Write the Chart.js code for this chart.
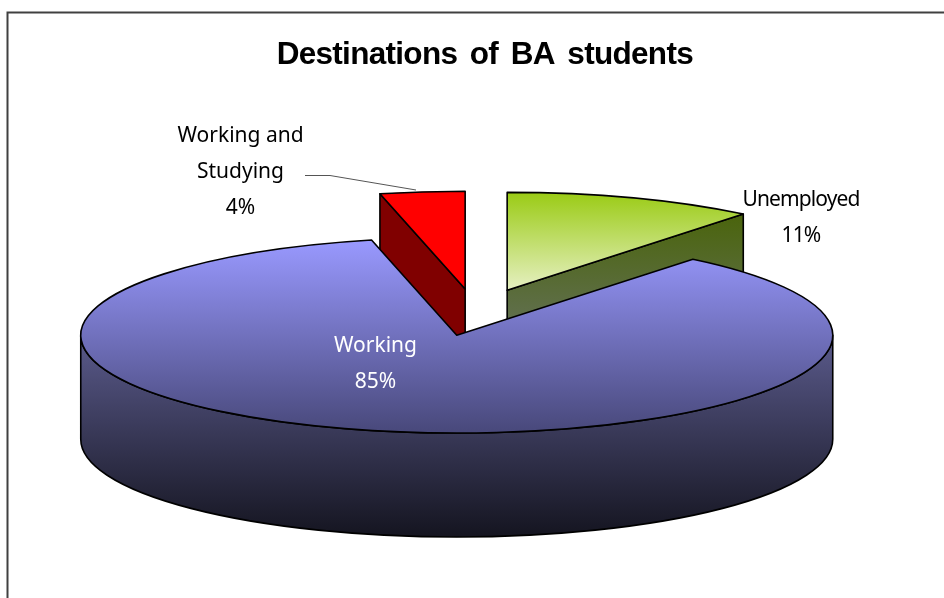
<!DOCTYPE html>
<html>
<head>
<meta charset="utf-8">
<title>Destinations of BA students</title>
<script src="https://cdn.jsdelivr.net/npm/chart.js@4/dist/chart.umd.min.js"></script>
<style>
html, body { margin: 0; padding: 0; background: #fff; }
canvas { display: block; }
</style>
</head>
<body>
<canvas id="myChart" width="944" height="598"></canvas>
<script>
// data, clockwise from 12 o'clock
var categories = ["Unemployed", "Working", "Working and Studying"];
var shares = [11, 85, 4];

// look of the tilted pie
var TILT = 0.26;      // y squash of the pie disc
var DEPTH = 104;      // wall height in px
var EXPLODE = 90.5;   // how far each slice is pulled out, before squash
var RADIUS = 376;

// the perspective of the original pulls the far cut edges toward 12 o'clock (degrees, end edge of each slice)
var edgeTrim = [-0.7, 1.3, 0];

var topColors = [["#9acb14", "#e6f0c2"], ["#9999ff", "#48487a"], ["#ff0000", "#ff0000"]];
var topRange = [[192, 290], [240, 433], [190, 288]];
var wallColors = [["#4a640c", "#606f4c"], ["#585888", "#14141f"], ["#800000", "#800000"]];
var wallRange = [[214, 319], [343, 538], [193, 340]];
var wallOrder = [2, 0, 1];

// label placement in page px (x, first line y, colour, letter spacing), one line every 36px
var labelSpots = [[801, 200, "#000", "-0.9px"], [375.5, 346, "#fff", "0px"], [240.5, 136, "#000", "0px"]];

function baseY(chart) {
    return (chart.chartArea.top + chart.chartArea.bottom) / 2;
}

function tilt(ctx, cy) {
    ctx.translate(0, cy);
    ctx.scale(1, TILT);
    ctx.translate(0, -cy);
}

// scriptable fill: gradient stops are given in page px, the fill runs inside the tilt
function topFill(c) {
    // no layout yet on the first pass
    if (!c.chart.chartArea) return topColors[c.dataIndex][0];
    var cy = baseY(c.chart);
    var r = topRange[c.dataIndex];
    var g = c.chart.ctx.createLinearGradient(0, cy + (r[0] - cy) / TILT, 0, cy + (r[1] - cy) / TILT);
    g.addColorStop(0, topColors[c.dataIndex][0]);
    g.addColorStop(1, topColors[c.dataIndex][1]);
    return g;
}

function wallFill(ctx, i) {
    var g = ctx.createLinearGradient(0, wallRange[i][0], 0, wallRange[i][1]);
    g.addColorStop(0, wallColors[i][0]);
    g.addColorStop(1, wallColors[i][1]);
    return g;
}

function paintCut(ctx, x0, y0, r, angle, i) {
    var x1 = x0 + Math.cos(angle) * r;
    var y1 = y0 + Math.sin(angle) * r * TILT;
    ctx.beginPath();
    ctx.moveTo(x0, y0);
    ctx.lineTo(x1, y1);
    ctx.lineTo(x1, y1 + DEPTH);
    ctx.lineTo(x0, y0 + DEPTH);
    ctx.closePath();
    ctx.fillStyle = wallFill(ctx, i);
    ctx.fill();
    ctx.stroke();
}

var pie3d = {
    id: "pie3d",
    afterDatasetsUpdate: function(chart) {
        var arcs = chart.getDatasetMeta(0).data;
        // pull every slice out along its middle angle
        arcs.forEach(function(el) {
            var mid = (el.startAngle + el.endAngle) / 2;
            el.x += Math.cos(mid) * EXPLODE;
            el.y += Math.sin(mid) * EXPLODE;
        });
        arcs.forEach(function(el, i) {
            var trim = edgeTrim[i] * Math.PI / 180;
            el.endAngle += trim;
            if (arcs[i + 1]) arcs[i + 1].startAngle += trim;
        });
    },
    beforeDraw: function(chart) {
        var ctx = chart.ctx;
        ctx.save();
        ctx.strokeStyle = "#404040";
        ctx.lineWidth = 2;
        ctx.beginPath();
        ctx.moveTo(7.5, chart.height);
        ctx.lineTo(7.5, 12.5);
        ctx.lineTo(chart.width, 12.5);
        ctx.stroke();
        ctx.restore();
        // the title is tight with wide word gaps in the original
        ctx.letterSpacing = "-0.7px";
        ctx.wordSpacing = "4.5px";
    },
    beforeDatasetsDraw: function(chart) {
        var ctx = chart.ctx;
        var cy = baseY(chart);
        var arcs = chart.getDatasetMeta(0).data;
        ctx.letterSpacing = "0px";
        ctx.wordSpacing = "0px";
        ctx.save();
        ctx.strokeStyle = "#000";
        ctx.lineWidth = 1.6;
        ctx.lineJoin = "round";
        wallOrder.forEach(function(i) {
            var el = arcs[i];
            var x0 = el.x;
            var y0 = cy + (el.y - cy) * TILT;
            var r = el.outerRadius;
            // cut faces turned to the viewer
            if (Math.sin(el.startAngle - Math.PI / 2) > 0.001) paintCut(ctx, x0, y0, r, el.startAngle, i);
            if (Math.sin(el.endAngle + Math.PI / 2) > 0.001) paintCut(ctx, x0, y0, r, el.endAngle, i);
            // round front wall
            var a = Math.max(el.startAngle, 0);
            var b = Math.min(el.endAngle, Math.PI);
            if (b > a) {
                ctx.beginPath();
                ctx.ellipse(x0, y0, r, r * TILT, 0, a, b);
                ctx.ellipse(x0, y0 + DEPTH, r, r * TILT, 0, b, a, true);
                ctx.closePath();
                ctx.fillStyle = wallFill(ctx, i);
                ctx.fill();
                ctx.stroke();
            }
        });
        ctx.restore();
        ctx.save();
        tilt(ctx, cy);
    },
    afterDatasetsDraw: function(chart) {
        var ctx = chart.ctx;
        var cy = baseY(chart);
        ctx.restore();
        ctx.save();
        // outlines in page space so the pen stays even
        ctx.strokeStyle = "#000";
        ctx.lineWidth = 1.6;
        ctx.lineJoin = "round";
        chart.getDatasetMeta(0).data.forEach(function(el) {
            var y0 = cy + (el.y - cy) * TILT;
            ctx.beginPath();
            ctx.moveTo(el.x, y0);
            ctx.ellipse(el.x, y0, el.outerRadius, el.outerRadius * TILT, 0, el.startAngle, el.endAngle);
            ctx.closePath();
            ctx.stroke();
        });

        // leader for the small slice
        ctx.strokeStyle = "#555";
        ctx.lineWidth = 1;
        ctx.beginPath();
        ctx.moveTo(305, 175.5);
        ctx.lineTo(330, 175.5);
        ctx.lineTo(416, 190);
        ctx.stroke();

        // labels: name, then share
        ctx.font = "21px 'Noto Sans'";
        ctx.textAlign = "center";
        ctx.textBaseline = "middle";
        categories.forEach(function(name, i) {
            var words = name.split(" ");
            var lines = words.length > 2 ? [words.slice(0, 2).join(" "), words.slice(2).join(" ")] : [name];
            lines.push(shares[i] + "%");
            ctx.fillStyle = labelSpots[i][2];
            ctx.letterSpacing = labelSpots[i][3];
            lines.forEach(function(line, n) {
                ctx.fillText(line, labelSpots[i][0], labelSpots[i][1] + n * 36);
            });
        });
        ctx.restore();
    }
};

new Chart(document.getElementById("myChart").getContext("2d"), {
    type: "pie",
    data: {
        labels: categories,
        datasets: [{
            data: shares,
            backgroundColor: topFill,
            borderWidth: 0,
            clip: false
        }]
    },
    plugins: [pie3d],
    options: {
        responsive: false,
        animation: false,
        radius: RADIUS,
        layout: { padding: { left: 260, right: 251, top: 0, bottom: 47.2 } },
        events: [],
        plugins: {
            legend: { display: false },
            tooltip: { enabled: false },
            title: {
                display: true,
                text: "Destinations of BA students",
                align: "end",
                color: "#000",
                font: { family: "'Liberation Sans'", size: 31.5, weight: "bold" },
                padding: { top: 36, bottom: 0 }
            }
        }
    }
});
</script>
</body>
</html>
